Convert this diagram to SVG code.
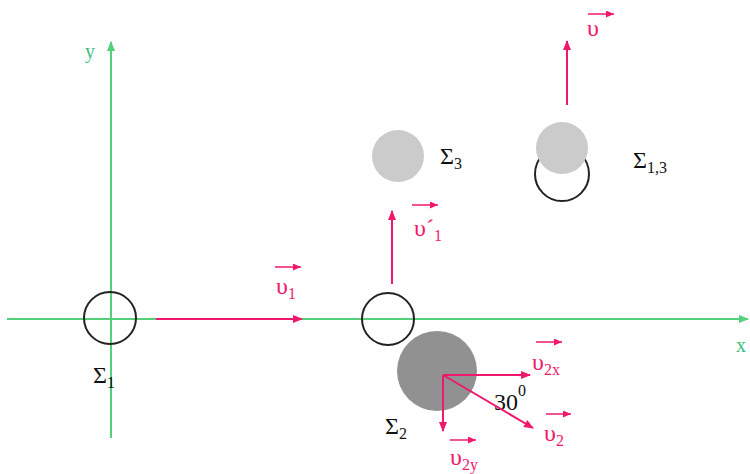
<svg xmlns="http://www.w3.org/2000/svg" width="750" height="474" viewBox="0 0 750 474">
<defs>
<marker id="ap" markerWidth="10" markerHeight="8" refX="9" refY="4" orient="auto" markerUnits="userSpaceOnUse"><path d="M0,0 L10,4 L0,8 Z" fill="#f0186c"/></marker>
<marker id="apS" markerWidth="8" markerHeight="7" refX="8" refY="3.5" orient="auto" markerUnits="userSpaceOnUse"><path d="M0,0 L8,3.5 L0,7 Z" fill="#f0186c"/></marker>
<marker id="ag" markerWidth="10" markerHeight="8" refX="9" refY="4" orient="auto" markerUnits="userSpaceOnUse"><path d="M0,0 L10,4 L0,8 Z" fill="#55d07a"/></marker>
<style>
.axis{stroke:#55d07a;stroke-width:2;fill:none}
.vec{stroke:#f0186c;stroke-width:2;fill:none;marker-end:url(#ap)}
.ov{stroke:#f0186c;stroke-width:1.5;fill:none;marker-end:url(#apS)}
.ring{fill:none;stroke:#222;stroke-width:2}
.lbl{font-family:"Liberation Serif",serif;font-size:24px;fill:#111}
.sub{font-size:16px}
.vl{font-family:"Liberation Serif",serif;font-size:24px;fill:#f0186c}
.ax{font-family:"Liberation Serif",serif;font-size:20px;fill:#3cc080}
</style>
</defs>
<g id="axes">
<line class="axis" x1="7" y1="319" x2="748" y2="319" marker-end="url(#ag)"/>
<line class="axis" x1="111" y1="438" x2="111" y2="42" marker-end="url(#ag)"/>
<text class="ax" x="85" y="58">y</text>
<text class="ax" x="736" y="352">x</text>
</g>
<g id="sigma1">
<circle class="ring" cx="110" cy="318" r="26"/>
<text class="lbl" x="93" y="383">Σ<tspan class="sub" dy="5">1</tspan></text>
</g>
<g id="circle1b">
<circle class="ring" cx="388" cy="319" r="26"/>
</g>
<g id="sigma3">
<circle cx="398" cy="156" r="26" fill="#cbcbcb"/>
<text class="lbl" x="440" y="164">Σ<tspan class="sub" dy="5">3</tspan></text>
</g>
<g id="sigma13">
<circle class="ring" cx="562" cy="174" r="27"/>
<circle cx="562" cy="148" r="26" fill="#cbcbcb"/>
<text class="lbl" x="633" y="168">Σ<tspan class="sub" dy="5">1,3</tspan></text>
</g>
<g id="sigma2">
<circle cx="437" cy="371" r="40" fill="#919191"/>
<text class="lbl" x="385" y="434">Σ<tspan class="sub" dy="5">2</tspan></text>
<text class="lbl" x="494" y="410">30<tspan class="sub" dy="-14">0</tspan></text>
</g>
<g id="connectors">
<line class="vec" x1="156" y1="319" x2="302" y2="319"/>
<line class="vec" x1="392" y1="284" x2="392" y2="211"/>
<line class="vec" x1="567" y1="105" x2="567" y2="41"/>
<line class="vec" x1="443" y1="375" x2="530" y2="375"/>
<line class="vec" x1="443" y1="375" x2="443" y2="431"/>
<line class="vec" x1="443" y1="375" x2="533" y2="428"/>
</g>
<g id="labels">
<line class="ov" x1="275" y1="267" x2="301" y2="267"/>
<text class="vl" x="276" y="294">υ<tspan class="sub" dy="5">1</tspan></text>
<line class="ov" x1="412" y1="205" x2="438" y2="205"/>
<text class="vl" x="414" y="236">υ´<tspan class="sub" dy="5">1</tspan></text>
<line class="ov" x1="588" y1="14" x2="614" y2="14"/>
<text class="vl" x="587" y="36">υ</text>
<line class="ov" x1="536" y1="342" x2="562" y2="342"/>
<text class="vl" x="532" y="370">υ<tspan class="sub" dy="5">2x</tspan></text>
<line class="ov" x1="546" y1="414" x2="571" y2="414"/>
<text class="vl" x="544" y="441">υ<tspan class="sub" dy="5">2</tspan></text>
<line class="ov" x1="450" y1="440" x2="476" y2="440"/>
<text class="vl" x="450" y="465">υ<tspan class="sub" dy="5">2y</tspan></text>
</g>
</svg>
